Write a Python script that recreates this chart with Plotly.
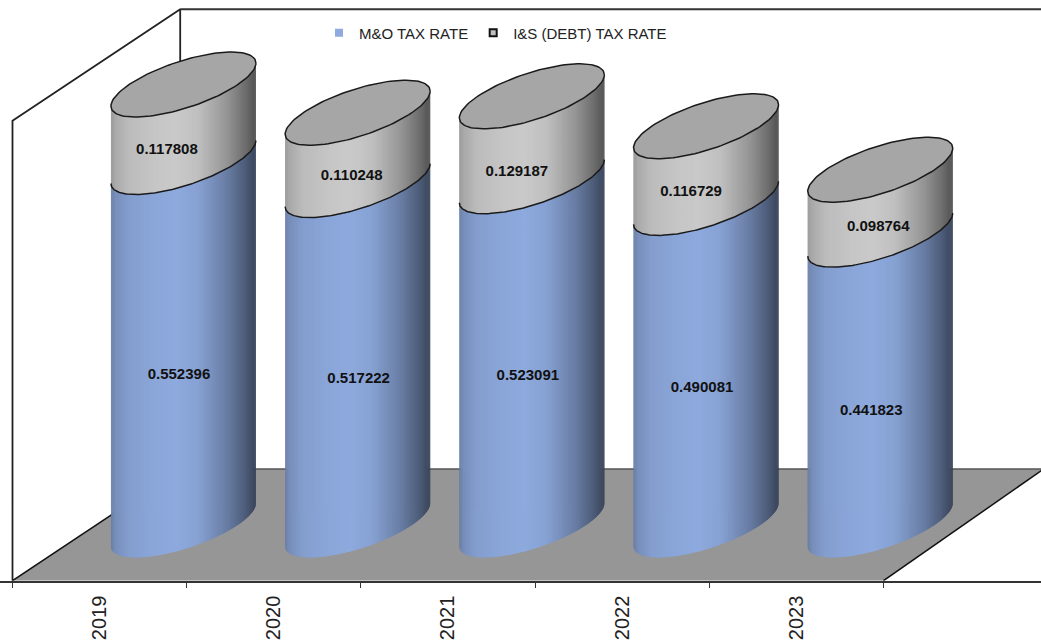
import numpy as np
import plotly.graph_objects as go

# ---------- data ----------
YEARS = ["2019", "2020", "2021", "2022", "2023"]
MO_RATE = [0.552396, 0.517222, 0.523091, 0.490081, 0.441823]
IS_RATE = [0.117808, 0.110248, 0.129187, 0.116729, 0.098764]
MO_NAME = "M&O TAX RATE"
IS_NAME = "I&S (DEBT) TAX RATE"

# ---------- view geometry ----------
W, H = 1041, 641
PX_X0, PX_Y0 = 12.5, 580.7      # pixel of the axes origin
PX_CAT = 174.2                  # pixels per category
PX_VAL = 657.0                  # pixels per unit of value
AXIS_MAX = 0.7
DEPTH_X = 167.7 / PX_CAT        # oblique shift of the back wall
DEPTH_Y = 111.6 / PX_VAL
DEPTH_X_RIGHT = 160.0 / PX_CAT
HALF_W = 72.5 / PX_CAT          # cylinder half width
TILT = 21.5 / PX_VAL            # ellipse rise left to right
MINOR = 24.4 / PX_VAL           # ellipse half thickness
N_STRIPS = 120

BLUE = np.array([142, 170, 222])
GREY = np.array([202, 202, 202])
TOP_FACE = "#a6a6a6"
FLOOR = "#969696"
SHADE_U = [0, 0.03, 0.12, 0.30, 0.45, 0.60, 0.80, 0.93, 1.0]
SHADE_F = [0.74, 0.84, 0.93, 0.98, 1.0, 0.95, 0.74, 0.54, 0.40]

# label offsets from the middle of each segment (pixels, right / down)
LABEL_NUDGE = 2.0
MO_LABEL_DX = [-4.5, 1, -4, -4, -9]
MO_LABEL_DY = [30, 22.5, 21.5, 22.6, 29.7]
IS_LABEL_DX = [-16.5, -6, -15, -15, -2]
IS_LABEL_DY = [25, 25.5, 31.6, 25.7, 23]

LABEL_FONT = dict(family="Liberation Sans", size=15, color="#111111")

fig = go.Figure()


def line(xs, ys, color="#222222", width=1.8):
    fig.add_trace(go.Scatter(x=xs, y=ys, mode="lines", showlegend=False, hoverinfo="skip",
                             line=dict(color=color, width=width)))


# floor
fig.add_trace(go.Scatter(
    x=[0, 5, 5 + DEPTH_X_RIGHT, DEPTH_X], y=[0, 0, DEPTH_Y, DEPTH_Y],
    mode="lines", fill="toself", fillcolor=FLOOR, line=dict(width=0, color=FLOOR),
    showlegend=False, hoverinfo="skip"))

# walls and floor edges
line([0, 0, DEPTH_X, DEPTH_X], [0, AXIS_MAX, AXIS_MAX + DEPTH_Y, DEPTH_Y])
line([DEPTH_X, 6.2], [AXIS_MAX + DEPTH_Y] * 2, color="#333333", width=2)
line([DEPTH_X, 6.2], [DEPTH_Y, DEPTH_Y], color="#555555", width=1.5)
line([0, DEPTH_X], [0, DEPTH_Y], color="#111111", width=1.5)
line([5, 5 + DEPTH_X_RIGHT], [0, DEPTH_Y], color="#111111", width=1.5)

# cylinders
centers = np.arange(len(YEARS)) + 0.5 + DEPTH_X / 2
base_y = DEPTH_Y / 2
mo = np.array(MO_RATE)
tot = mo + np.array(IS_RATE)

t = np.linspace(np.pi, 2 * np.pi, N_STRIPS + 1)
cos_t, sin_t = np.cos(t), np.sin(t)
front = TILT * cos_t + MINOR * sin_t


def shade_color(base, u):
    f = np.interp(u, SHADE_U, SHADE_F)
    r, g, b = (base * f).astype(int)
    return f"rgb({r},{g},{b})"


def add_band(low, high, base):
    for k in range(N_STRIPS):
        k2 = min(k + 2, N_STRIPS)          # overlap the next strip to hide seams
        xs, ys = [], []
        for c, lo, hi in zip(centers, low, high):
            sx = c + HALF_W * cos_t
            xs += [sx[k], sx[k2], sx[k2], sx[k], None]
            ys += [base_y + lo + front[k], base_y + lo + front[k2],
                   base_y + hi + front[k2], base_y + hi + front[k], None]
        u = (cos_t[k] + cos_t[k + 1]) / 4 + 0.5
        col = shade_color(base, u)
        fig.add_trace(go.Scatter(x=xs, y=ys, mode="lines", fill="toself", fillcolor=col,
                                 line=dict(width=0, color=col), showlegend=False,
                                 hoverinfo="skip"))


add_band(np.zeros(len(mo)), mo, BLUE)
add_band(mo, tot, GREY)

# segment border and top faces
bx, by, ex, ey = [], [], [], []
T = np.linspace(0, 2 * np.pi, 121)
for c, m, s in zip(centers, mo, tot):
    bx += list(c + HALF_W * cos_t) + [None]
    by += list(base_y + m + front) + [None]
    ex += list(c + HALF_W * np.cos(T)) + [None]
    ey += list(base_y + s + TILT * np.cos(T) + MINOR * np.sin(T)) + [None]
line(bx, by, color="#1a1a1a", width=1.5)
fig.add_trace(go.Scatter(x=ex, y=ey, mode="lines", fill="toself", fillcolor=TOP_FACE,
                         line=dict(color="#1a1a1a", width=1.5), showlegend=False,
                         hoverinfo="skip"))

# data labels
for values, bottoms, dxs, dys in ((MO_RATE, np.zeros(len(mo)), MO_LABEL_DX, MO_LABEL_DY),
                                  (IS_RATE, mo, IS_LABEL_DX, IS_LABEL_DY)):
    v = np.array(values)
    fig.add_trace(go.Scatter(
        x=centers + np.array(dxs) / PX_CAT,
        y=base_y + bottoms + v / 2 - (np.array(dys) + LABEL_NUDGE) / PX_VAL,
        mode="text", text=[f"<b>{a:.6f}</b>" for a in values], textposition="middle center",
        textfont=LABEL_FONT, showlegend=False, hoverinfo="skip"))

# legend entries
fig.add_trace(go.Scatter(x=[None], y=[None], mode="markers", name=MO_NAME,
                         marker=dict(symbol="square", size=8, color="#8eaade")))
fig.add_trace(go.Scatter(x=[None], y=[None], mode="markers", name=IS_NAME,
                         marker=dict(symbol="square", size=7, color="#c0c0c0",
                                     line=dict(color="#111111", width=2))))

fig.update_layout(
    width=W, height=H, margin=dict(l=0, r=0, t=0, b=0, autoexpand=False),
    paper_bgcolor="white", plot_bgcolor="white",
    legend=dict(orientation="h", x=319 / W, y=1 - 33 / H, yanchor="middle", xanchor="left",
                yref="paper", bgcolor="rgba(0,0,0,0)",
                font=dict(family="Liberation Sans", size=15, color="#222222")),
    xaxis=dict(range=[-PX_X0 / PX_CAT, (W - PX_X0) / PX_CAT], automargin=False,
               tickmode="array", tickvals=[i + 0.5 for i in range(len(YEARS))], ticktext=YEARS,
               tickangle=-90, ticks="", ticklabelstandoff=5,
               tickfont=dict(family="Liberation Sans", size=20, color="#222222"),
               showgrid=False, zeroline=False, showline=True, linecolor="#333333", linewidth=2,
               minor=dict(tickmode="array", tickvals=list(range(len(YEARS) + 1)),
                          ticks="outside", ticklen=5, tickcolor="#333333", tickwidth=1,
                          showgrid=False)),
    yaxis=dict(domain=[(H - PX_Y0) / H, 1], range=[0, PX_Y0 / PX_VAL], visible=False,
               automargin=False),
)

fig.write_html("out.html", config={"displayModeBar": False},
               post_script="document.body.style.margin='0';document.body.style.overflow='hidden';")
